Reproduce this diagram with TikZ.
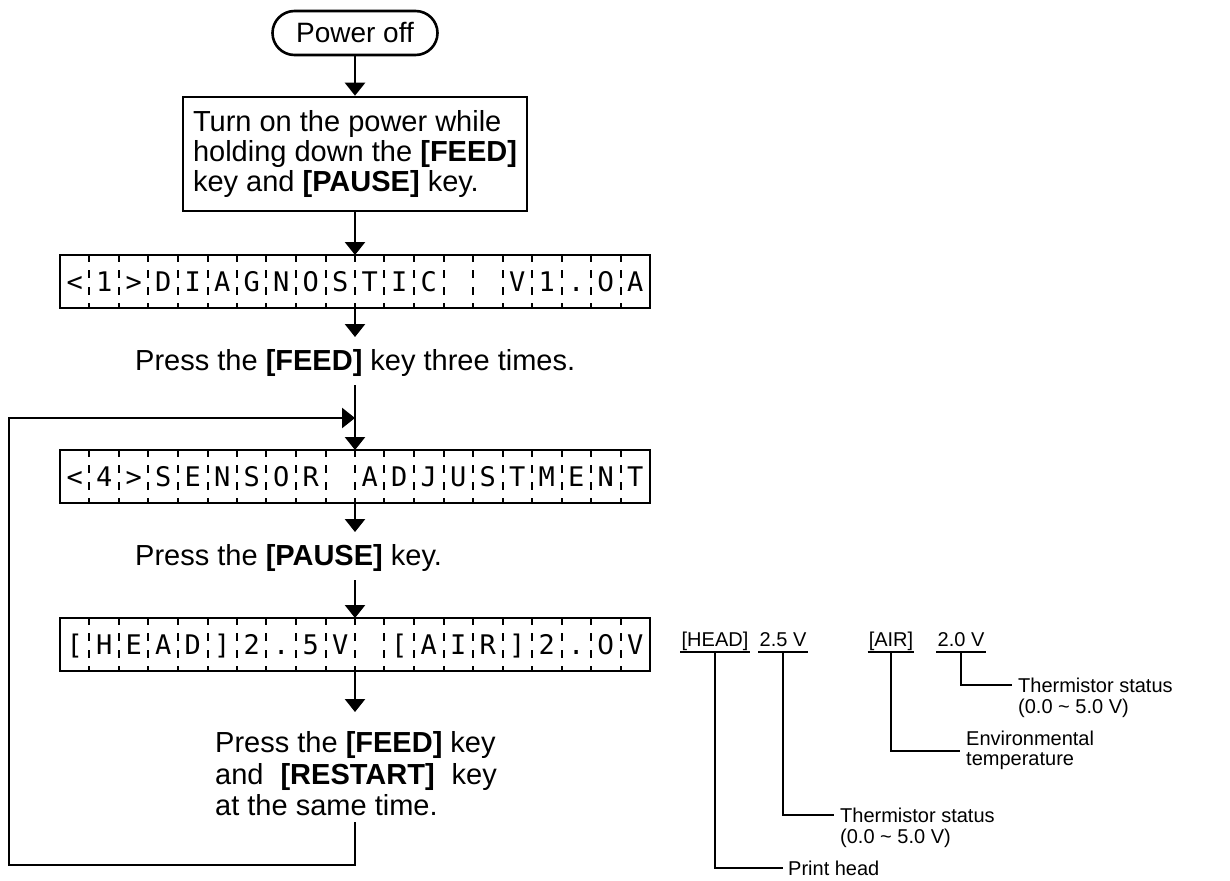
\documentclass[tikz,border=0pt]{standalone}
\usepackage{fontspec}
\setmainfont{Liberation Sans}
\newfontfamily\lcdfont{DejaVu Sans Mono}
\newfontfamily\lcdzerofont{DejaVu Sans}
\usetikzlibrary{arrows.meta,calc}
\begin{document}
\begin{tikzpicture}[x=1pt,y=-1pt,
  lw/.style={line width=2.6pt},
  arr/.style={lw,-{Triangle[width=20pt,length=13pt]}},
  maintext/.style={font=\fontsize{29}{30}\selectfont, inner sep=0pt},
  lcdbox/.style={draw,line width=2.7pt,minimum width=590pt,minimum height=53pt,inner sep=0pt,outer sep=0pt},
  sepline/.style={line width=2pt,dash pattern=on 7pt off 8pt on 8pt off 9pt on 8pt off 8pt on 7pt},
  lcdch/.style={font=\lcdfont\fontsize{27}{27}\selectfont,inner sep=0pt,text height=20pt,text depth=0pt},
  ann/.style={font=\fontsize{20}{23}\selectfont,inner sep=0pt},
  annlab/.style={ann,text height=15pt,text depth=5pt,inner xsep=1pt,anchor=south},
  annline/.style={line width=2.2pt}
]
\useasboundingbox (0,0) rectangle (1230,880);

% flow
\node[draw,lw,rounded corners=22pt,minimum width=165pt,minimum height=44pt,maintext,font=\fontsize{28}{30}\selectfont] (po) at (355,33) {Power off};
\node[draw,lw,maintext,align=left,minimum width=344pt,minimum height=114pt] (tb) at (355,154)
  {Turn on the power while\\holding down the \textbf{[FEED]}\\key and \textbf{[PAUSE]} key.};

\node[lcdbox] (d1) at (355,281.5) {};
\node[lcdbox] (d2) at (355,476.5) {};
\node[lcdbox] (d3) at (355,644.5) {};

\foreach \n in {d1,d2,d3}{
  \foreach \i in {1,...,19}{
    \draw[sepline] ($(\n.north west)!\i/20!(\n.north east)$) -- ($(\n.south west)!\i/20!(\n.south east)$);
  }
}
\foreach \ch [count=\i from 0, evaluate=\i as \f using (\i+0.5)/20] in {<,1,>,D,I,A,G,N,O,S,T,I,C,{},{},V,1,.,{\lcdzerofont 0},A}
  \node[lcdch] at ($(d1.west)!\f!(d1.east)$) {\ch};
\foreach \ch [count=\i from 0, evaluate=\i as \f using (\i+0.5)/20] in {<,4,>,S,E,N,S,O,R,{},A,D,J,U,S,T,M,E,N,T}
  \node[lcdch] at ($(d2.west)!\f!(d2.east)$) {\ch};
\foreach \ch [count=\i from 0, evaluate=\i as \f using (\i+0.5)/20] in {[,H,E,A,D,],2,.,5,V,{},[,A,I,R,],2,.,{\lcdzerofont 0},V}
  \node[lcdch] at ($(d3.west)!\f!(d3.east)$) {\ch};

\node[maintext,anchor=west] (t1) at (135,363) {Press the \textbf{[FEED]} key three times.};
\node[maintext,anchor=west] (t2) at (135,558) {Press the \textbf{[PAUSE]} key.};
\node[maintext,anchor=west,align=left,font=\fontsize{29}{31.5}\selectfont] (t3) at (215,774)
  {Press the \textbf{[FEED]} key\\and\hspace{17pt}\textbf{[RESTART]}\hspace{17pt}key\\at the same time.};

\coordinate (a1) at (355,337);
\coordinate (b1) at (355,385);
\coordinate (j1) at (355,418);
\coordinate (a2) at (355,532);
\coordinate (b2) at (355,580);
\coordinate (a3) at (355,712);
\coordinate (b3) at (355,822);
\coordinate (lc) at (9,865);

\draw[arr] (po.south) -- (tb.north);
\draw[arr] (tb.south) -- (d1.north);
\draw[arr] (d1.south) -- (a1);
\draw[arr] (b1) -- (d2.north);
\draw[arr] (d2.south) -- (a2);
\draw[arr] (b2) -- (d3.north);
\draw[arr] (d3.south) -- (a3);
\draw[arr] (b3) |- (lc) |- (j1);

% annotations
\node[annlab] (hd) at (715,652) {[HEAD]};
\node[annlab] (v25) at (783,652) {2.5 V};
\node[annlab] (air) at (891,652) {[AIR]};
\node[annlab] (v20) at (961,652) {2.0 V};
\foreach \n in {hd,v25,air,v20}
  \draw[annline] (\n.south west) -- (\n.south east);

\node[ann,anchor=west] (ts2a) at (1018,685) {Thermistor status};
\node[ann,anchor=west] (ts2b) at (1018,708) {(0.0 \textasciitilde{} 5.0 V)};
\node[ann,anchor=west] (env1) at (966,738) {Environmental};
\node[ann,anchor=west] (env2) at (966,761) {temperature};
\node[ann,anchor=west] (ts1a) at (840,815) {Thermistor status};
\node[ann,anchor=west] (ts1b) at (840,838) {(0.0 \textasciitilde{} 5.0 V)};
\node[ann,anchor=west] (ph) at (788,868) {Print head};

\coordinate (envc) at ($(env1.west)!0.55!(env2.west)$);
\draw[annline,shorten >=6pt] (v20.south) |- (ts2a.west);
\draw[annline,shorten >=6pt] (air.south) |- (envc);
\draw[annline,shorten >=6pt] (v25.south) |- (ts1a.west);
\draw[annline,shorten >=5pt] (hd.south) |- (ph.west);
\end{tikzpicture}
\end{document}
